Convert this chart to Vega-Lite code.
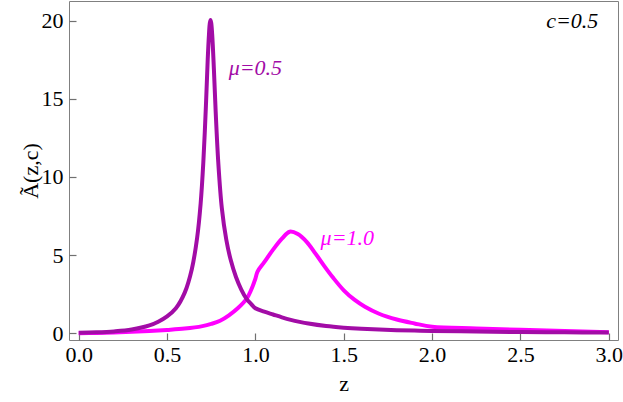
{
  "$schema": "https://vega.github.io/schema/vega-lite/v6.json",
  "width": 549,
  "height": 339,
  "autosize": {"type": "none"},
  "padding": {"left": 69, "top": 1, "right": 5, "bottom": 62},
  "background": "white",
  "config": {
    "view": {"stroke": "#808080", "strokeWidth": 1}
  },
  "datasets": {
    "curves": [
      {"series": "1.0", "z": 0.0, "A": 0.0},
      {"series": "1.0", "z": 0.1, "A": 0.02},
      {"series": "1.0", "z": 0.2, "A": 0.05},
      {"series": "1.0", "z": 0.3, "A": 0.09},
      {"series": "1.0", "z": 0.4, "A": 0.14},
      {"series": "1.0", "z": 0.5, "A": 0.21},
      {"series": "1.0", "z": 0.6, "A": 0.3},
      {"series": "1.0", "z": 0.7, "A": 0.46},
      {"series": "1.0", "z": 0.75, "A": 0.6},
      {"series": "1.0", "z": 0.8, "A": 0.8},
      {"series": "1.0", "z": 0.85, "A": 1.15},
      {"series": "1.0", "z": 0.9, "A": 1.6},
      {"series": "1.0", "z": 0.95, "A": 2.2},
      {"series": "1.0", "z": 0.975, "A": 2.75},
      {"series": "1.0", "z": 1.0, "A": 3.5},
      {"series": "1.0", "z": 1.012, "A": 3.95},
      {"series": "1.0", "z": 1.05, "A": 4.55},
      {"series": "1.0", "z": 1.1, "A": 5.35},
      {"series": "1.0", "z": 1.15, "A": 6.05},
      {"series": "1.0", "z": 1.194, "A": 6.5},
      {"series": "1.0", "z": 1.24, "A": 6.35},
      {"series": "1.0", "z": 1.29, "A": 5.85},
      {"series": "1.0", "z": 1.34, "A": 5.1},
      {"series": "1.0", "z": 1.39, "A": 4.3},
      {"series": "1.0", "z": 1.44, "A": 3.55},
      {"series": "1.0", "z": 1.5, "A": 2.75},
      {"series": "1.0", "z": 1.56, "A": 2.15},
      {"series": "1.0", "z": 1.62, "A": 1.7},
      {"series": "1.0", "z": 1.7, "A": 1.25},
      {"series": "1.0", "z": 1.8, "A": 0.88},
      {"series": "1.0", "z": 1.9, "A": 0.63},
      {"series": "1.0", "z": 2.0, "A": 0.42},
      {"series": "1.0", "z": 2.25, "A": 0.31},
      {"series": "1.0", "z": 2.5, "A": 0.22},
      {"series": "1.0", "z": 2.75, "A": 0.14},
      {"series": "1.0", "z": 3.0, "A": 0.06},
      {"series": "0.5", "z": 0.0, "A": 0.03},
      {"series": "0.5", "z": 0.1, "A": 0.06},
      {"series": "0.5", "z": 0.2, "A": 0.12},
      {"series": "0.5", "z": 0.3, "A": 0.24},
      {"series": "0.5", "z": 0.4, "A": 0.5},
      {"series": "0.5", "z": 0.45, "A": 0.74},
      {"series": "0.5", "z": 0.5, "A": 1.08},
      {"series": "0.5", "z": 0.55, "A": 1.6},
      {"series": "0.5", "z": 0.6, "A": 2.6},
      {"series": "0.5", "z": 0.64, "A": 4.1},
      {"series": "0.5", "z": 0.67, "A": 6.1},
      {"series": "0.5", "z": 0.69, "A": 8.3},
      {"series": "0.5", "z": 0.705, "A": 10.9},
      {"series": "0.5", "z": 0.72, "A": 14.6},
      {"series": "0.5", "z": 0.73, "A": 17.5},
      {"series": "0.5", "z": 0.737, "A": 19.1},
      {"series": "0.5", "z": 0.742, "A": 19.85},
      {"series": "0.5", "z": 0.746, "A": 20.05},
      {"series": "0.5", "z": 0.75, "A": 19.85},
      {"series": "0.5", "z": 0.756, "A": 19.0},
      {"series": "0.5", "z": 0.765, "A": 16.9},
      {"series": "0.5", "z": 0.775, "A": 14.2},
      {"series": "0.5", "z": 0.79, "A": 10.9},
      {"series": "0.5", "z": 0.81, "A": 8.0},
      {"series": "0.5", "z": 0.835, "A": 6.0},
      {"series": "0.5", "z": 0.86, "A": 4.7},
      {"series": "0.5", "z": 0.89, "A": 3.6},
      {"series": "0.5", "z": 0.92, "A": 2.8},
      {"series": "0.5", "z": 0.95, "A": 2.2},
      {"series": "0.5", "z": 0.975, "A": 1.88},
      {"series": "0.5", "z": 1.0, "A": 1.6},
      {"series": "0.5", "z": 1.05, "A": 1.38},
      {"series": "0.5", "z": 1.1, "A": 1.2},
      {"series": "0.5", "z": 1.15, "A": 1.02},
      {"series": "0.5", "z": 1.2, "A": 0.86},
      {"series": "0.5", "z": 1.25, "A": 0.73},
      {"series": "0.5", "z": 1.3, "A": 0.62},
      {"series": "0.5", "z": 1.4, "A": 0.46},
      {"series": "0.5", "z": 1.5, "A": 0.36},
      {"series": "0.5", "z": 1.6, "A": 0.29},
      {"series": "0.5", "z": 1.7, "A": 0.24},
      {"series": "0.5", "z": 1.8, "A": 0.2},
      {"series": "0.5", "z": 1.9, "A": 0.17},
      {"series": "0.5", "z": 2.0, "A": 0.15},
      {"series": "0.5", "z": 2.25, "A": 0.11},
      {"series": "0.5", "z": 2.5, "A": 0.08},
      {"series": "0.5", "z": 2.75, "A": 0.06},
      {"series": "0.5", "z": 3.0, "A": 0.05}
    ],
    "labels": [
      {"series": "0.5", "z": 1.0, "A": 17.0, "label": "μ=0.5"},
      {"series": "1.0", "z": 1.52, "A": 6.1, "label": "μ=1.0"},
      {"series": "c", "z": 2.793, "A": 19.95, "label": "c=0.5"}
    ]
  },
  "layer": [
    {
      "data": {"name": "curves"},
      "mark": {"type": "line", "strokeWidth": 4, "interpolate": "catmull-rom"},
      "encoding": {
        "x": {
          "field": "z", "type": "quantitative",
          "scale": {"domain": [-0.055, 3.052], "nice": false, "zero": false},
          "axis": {
            "orient": "bottom", "domain": false, "grid": false, "ticks": true,
            "tickColor": "#707070", "tickWidth": 1.2,
            "values": [0, 0.5, 1, 1.5, 2, 2.5, 3],
            "format": ".1f",
            "offset": -7, "tickSize": 7,
            "labelPadding": 4, "labelFlush": false, "labelOverlap": false,
            "labelFont": "Times New Roman", "labelFontSize": 22, "labelColor": "#000000",
            "title": "z", "titleFont": "Times New Roman", "titleFontSize": 22, "titleFontWeight": "normal", "titleColor": "#000000",
            "titleY": 50, "titleBaseline": "middle"
          }
        },
        "y": {
          "field": "A", "type": "quantitative",
          "scale": {"domain": [-0.43, 21.26], "nice": false, "zero": false},
          "axis": {
            "orient": "left", "domain": false, "grid": false, "ticks": true,
            "tickColor": "#707070", "tickWidth": 1.2,
            "values": [0, 5, 10, 15, 20],
            "format": "d",
            "offset": -7, "tickSize": 7,
            "labelPadding": 6, "labelFlush": false, "labelOverlap": false,
            "labelFont": "Times New Roman", "labelFontSize": 22, "labelColor": "#000000",
            "title": "Ã(z,c)", "titleFont": "Times New Roman", "titleFontSize": 22, "titleFontWeight": "normal", "titleColor": "#000000",
            "titleAngle": -90, "titleX": -46, "titleY": 169.5, "titleAlign": "center", "titleBaseline": "middle"
          }
        },
        "color": {
          "field": "series", "type": "nominal",
          "scale": {"domain": ["0.5", "1.0", "c"], "range": ["#a20ca6", "#ff00ff", "#000000"]},
          "legend": null
        }
      }
    },
    {
      "data": {"name": "labels"},
      "mark": {"type": "text", "font": "serif", "fontStyle": "italic", "fontSize": 22, "align": "center", "baseline": "middle"},
      "encoding": {
        "x": {"field": "z", "type": "quantitative"},
        "y": {"field": "A", "type": "quantitative"},
        "text": {"field": "label"},
        "color": {"field": "series", "type": "nominal", "legend": null}
      }
    }
  ]
}
